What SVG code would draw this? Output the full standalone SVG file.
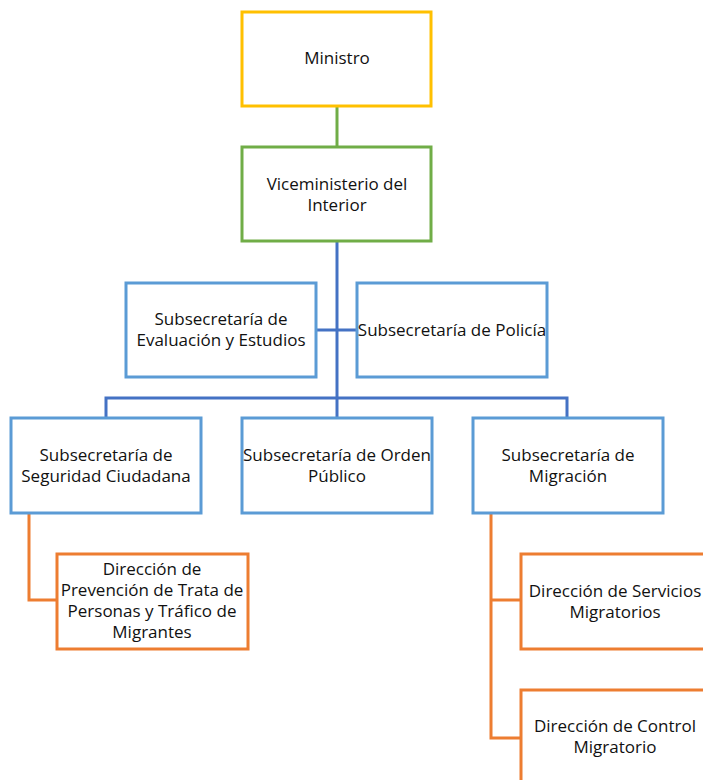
<svg xmlns="http://www.w3.org/2000/svg" width="703" height="780" viewBox="0 0 703 780">
<style>
.box{fill:#fff;stroke-width:3}
.y{stroke:#FFC000}.g{stroke:#70AD47}.b{stroke:#5B9BD5}.o{stroke:#ED7D31}
.c{fill:none;stroke-width:3}
.cb{stroke:#4472C4}.cg{stroke:#70AD47}.co{stroke:#ED7D31}
text{font-family:"Open Sans","Liberation Sans",Arial,sans-serif;font-size:17px;fill:#111;text-anchor:middle}
</style>
<rect width="703" height="780" fill="#fff"/>
<g id="connectors">
<line class="c cg" x1="337" y1="106" x2="337" y2="146"/>
<line class="c cb" x1="337" y1="242" x2="337" y2="398"/>
<line class="c cb" x1="317" y1="330" x2="356" y2="330"/>
<polyline class="c cb" points="106,417 106,398 567,398 567,417"/>
<line class="c cb" x1="337" y1="398" x2="337" y2="417"/>
<polyline class="c co" points="29,513 29,600 56,600"/>
<polyline class="c co" points="491,513 491,738 520,738"/>
<line class="c co" x1="491" y1="600" x2="520" y2="600"/>
</g>
<g id="ministro"><rect class="box y" x="242" y="12" width="189" height="94"/><text x="337" y="64">Ministro</text></g>
<g id="viceministerio"><rect class="box g" x="242" y="147" width="189" height="94"/><text x="337" y="190">Viceministerio del</text><text x="337" y="211">Interior</text></g>
<g id="evaluacion"><rect class="box b" x="126" y="283" width="190" height="94"/><text x="221" y="325">Subsecretaría de</text><text x="221" y="346">Evaluación y Estudios</text></g>
<g id="policia"><rect class="box b" x="357" y="283" width="190" height="94"/><text x="452" y="336">Subsecretaría de Policía</text></g>
<g id="seguridad"><rect class="box b" x="11" y="418" width="190" height="95"/><text x="106" y="461">Subsecretaría de</text><text x="106" y="482">Seguridad Ciudadana</text></g>
<g id="orden"><rect class="box b" x="242" y="418" width="190" height="95"/><text x="337" y="461">Subsecretaría de Orden</text><text x="337" y="482">Público</text></g>
<g id="migracion"><rect class="box b" x="473" y="418" width="190" height="95"/><text x="568" y="461">Subsecretaría de</text><text x="568" y="482">Migración</text></g>
<g id="trata"><rect class="box o" x="57" y="554" width="191" height="95"/><text x="152" y="575">Dirección de</text><text x="152" y="596">Prevención de Trata de</text><text x="152" y="617">Personas y Tráfico de</text><text x="152" y="638">Migrantes</text></g>
<g id="servicios"><rect class="box o" x="521" y="554" width="192" height="95"/><text x="615" y="597">Dirección de Servicios</text><text x="615" y="618">Migratorios</text></g>
<g id="control"><rect class="box o" x="521" y="690" width="192" height="95"/><text x="615" y="732">Dirección de Control</text><text x="615" y="753">Migratorio</text></g>
</svg>
